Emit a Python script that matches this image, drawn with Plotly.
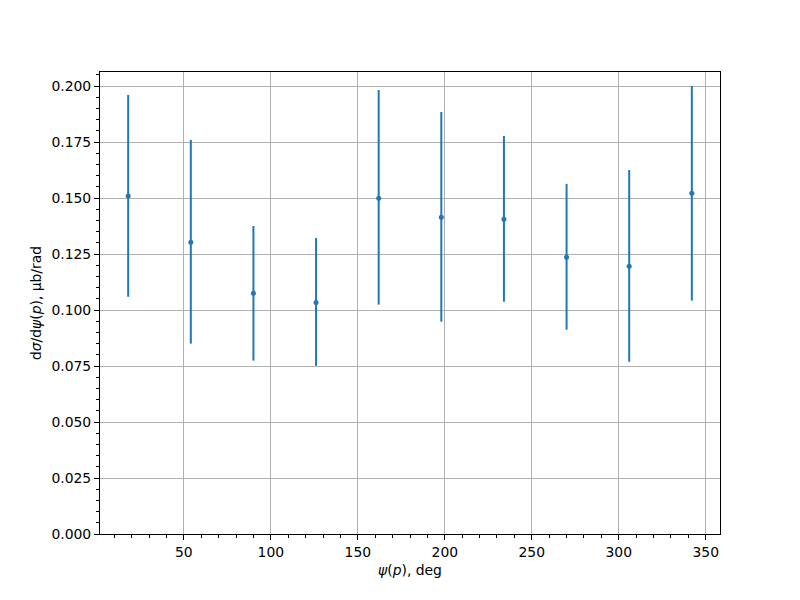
import plotly.graph_objects as go

psi_deg = [18, 54, 90, 126, 162, 198, 234, 270, 306, 342]
dsigma = [0.1509, 0.1302, 0.1075, 0.1034, 0.1499, 0.1414, 0.1405, 0.1235, 0.1195, 0.1521]
err_plus = [0.0451, 0.0457, 0.0300, 0.0287, 0.0483, 0.0470, 0.0372, 0.0328, 0.0430, 0.0479]
err_minus = [0.0450, 0.0452, 0.0301, 0.0283, 0.0475, 0.0466, 0.0368, 0.0323, 0.0426, 0.0479]

x_ticks = [50, 100, 150, 200, 250, 300, 350]

blue = "#1f77b4"
font = "DejaVu Sans, Liberation Sans, sans-serif"
fs = 13.9

fig = go.Figure()
fig.add_trace(go.Scatter(
    x=psi_deg, y=dsigma, mode="markers",
    marker=dict(color=blue, size=5),
    error_y=dict(type="data", symmetric=False, array=err_plus, arrayminus=err_minus,
                 color=blue, thickness=2, width=0),
    showlegend=False,
))

axis_common = dict(
    showline=True, linecolor="black", linewidth=1, mirror=True,
    ticks="outside", ticklen=5, tickwidth=1, tickcolor="black",
    showgrid=True, gridcolor="#b0b0b0", gridwidth=1,
    zeroline=False, automargin=False,
    tickfont=dict(family=font, size=fs, color="black"),
)

# page body has an 8px margin, so the figure sits at (8, 8)
fig.update_layout(
    width=792, height=592,
    paper_bgcolor="white", plot_bgcolor="white",
    margin=dict(l=92, r=80, t=64, b=66),
    font=dict(family=font, size=fs, color="black"),
    xaxis=dict(
        range=[1.8, 358.2], tickvals=x_ticks,
        minor=dict(dtick=10, tick0=0, ticks="outside", ticklen=3, tickwidth=1,
                   tickcolor="black", showgrid=False),
        title=dict(text="<i>ψ</i>(<i>p</i>), deg", font=dict(family=font, size=fs), standoff=6),
        **axis_common,
    ),
    yaxis=dict(
        range=[0, 0.20625], dtick=0.025, tick0=0, tickformat=".3f",
        minor=dict(dtick=0.005, tick0=0, ticks="outside", ticklen=3, tickwidth=1,
                   tickcolor="black", showgrid=False),
        title=dict(text="d<i>σ</i>/d<i>ψ</i>(<i>p</i>), μb/rad", font=dict(family=font, size=fs), standoff=6),
        **axis_common,
    ),
)

fig.write_html("out.html")
